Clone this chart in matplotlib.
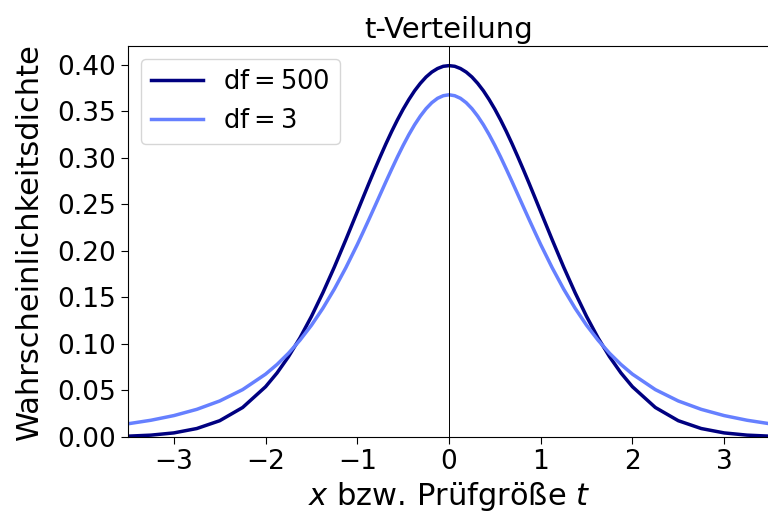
import matplotlib
matplotlib.use("Agg")
import matplotlib.pyplot as plt

# sample positions (x >= 0, curves are symmetric)
x_pos = [0.0, 0.0625, 0.125, 0.1875, 0.25, 0.3125, 0.375, 0.4375, 0.5, 0.5625,
         0.625, 0.6875, 0.75, 0.8125, 0.875, 0.9375, 1.0, 1.125, 1.25,
         1.375, 1.5, 1.625, 1.75, 1.875, 2.0, 2.25, 2.5, 2.75, 3.0, 3.25, 3.5]
dens_df500 = [0.3989, 0.3982, 0.3958, 0.3920, 0.3867, 0.3799, 0.3719, 0.3625,
              0.3521, 0.3406, 0.3282, 0.3150, 0.3011, 0.2868, 0.2721, 0.2571,
              0.2420, 0.2119, 0.1826, 0.1550, 0.1295, 0.1065, 0.0863, 0.0688,
              0.0540, 0.0317, 0.0175, 0.0091, 0.0044, 0.0020, 0.0009]
dens_df3 = [0.3676, 0.3666, 0.3638, 0.3591, 0.3527, 0.3447, 0.3354, 0.3248,
            0.3132, 0.3008, 0.2877, 0.2743, 0.2606, 0.2469, 0.2333, 0.2199,
            0.2067, 0.1818, 0.1589, 0.1383, 0.1200, 0.1040, 0.0900, 0.0779,
            0.0675, 0.0509, 0.0387, 0.0297, 0.0230, 0.0180, 0.0142]
labels = ["df$=500$", "df$=3$"]

def mirror(xs, ys):
    xx = [-v for v in xs[:0:-1]] + list(xs)
    yy = list(ys[:0:-1]) + list(ys)
    return xx, yy

fig = plt.figure(figsize=(7.68, 5.2), dpi=100)
ax = fig.add_axes([128/768, (520-437)/520, (770-128)/768, (437-46)/520])

x1, y1 = mirror(x_pos, dens_df500)
x2, y2 = mirror(x_pos, dens_df3)
ax.plot(x1, y1, color="#000080", lw=2.5, label=labels[0])
ax.plot(x2, y2, color="#6680ff", lw=2.5, label=labels[1])
ax.axvline(0, color="black", lw=0.7)

ax.set_xlim(-3.5, 3.5)
ax.set_ylim(0, 0.42)
ax.set_yticks([0, 0.05, 0.1, 0.15, 0.2, 0.25, 0.3, 0.35, 0.4])
ax.set_xticks([-3, -2, -1, 0, 1, 2, 3])
ax.set_xticklabels(["−3", "−2", "−1", "0", "1", "2", "3"])
ax.tick_params(labelsize=19, length=5)
ax.set_title("t-Verteilung", fontsize=21, pad=6)
ax.set_xlabel("$x$ bzw. Prüfgröße $t$", fontsize=22)
ax.set_ylabel("Wahrscheinlichkeitsdichte", fontsize=22, labelpad=10)
ax.legend(loc="upper left", fontsize=18.5)

fig.savefig("out.png", dpi=100)
